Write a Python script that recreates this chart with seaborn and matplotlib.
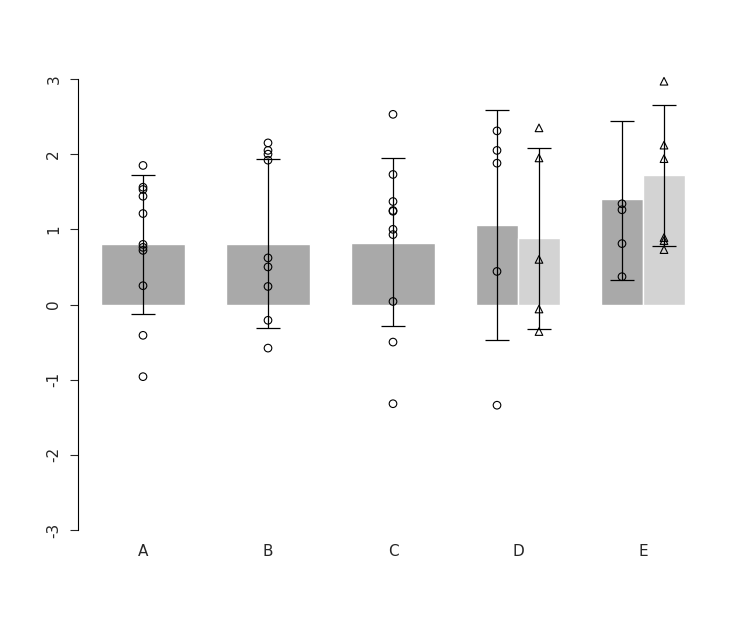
import matplotlib
matplotlib.use("Agg")
import matplotlib.pyplot as plt
import seaborn as sns
import pandas as pd

categories = ["A", "B", "C", "D", "E"]

# first series (dark bars, circles) and second series (light bars, triangles)
means1 = [0.80, 0.81, 0.82, 1.06, 1.40]
err_hi1 = [1.72, 1.93, 1.95, 2.59, 2.44]
err_lo1 = [-0.12, -0.31, -0.29, -0.47, 0.33]
pts1 = [
    [1.85, 1.56, 1.53, 1.44, 1.21, 0.80, 0.76, 0.72, 0.25, -0.41, -0.96],
    [2.15, 2.05, 2.00, 1.92, 0.62, 0.50, 0.24, -0.21, -0.58],
    [2.53, 1.73, 1.37, 1.25, 1.24, 1.00, 0.93, 0.04, -0.50, -1.32],
    [2.31, 2.05, 1.88, 0.44, -1.34],
    [1.34, 1.26, 0.81, 0.37],
]

cats2 = ["D", "E"]
means2 = [0.89, 1.72]
err_hi2 = [2.08, 2.65]
err_lo2 = [-0.32, 0.78]
pts2 = [
    [2.35, 1.95, 0.60, -0.06, -0.36],
    [2.97, 2.12, 1.94, 0.89, 0.85, 0.73],
]

sns.set_style("white")
fig = plt.figure(figsize=(7.5, 6.29), dpi=100)
ax = fig.add_axes([78 / 750, 99 / 629, 630 / 750, 451 / 629])

pos = {c: i for i, c in enumerate(categories)}
x1 = []
for c in categories:
    x1.append(pos[c] - 0.168 if c in cats2 else pos[c])
w1 = [0.336 if c in cats2 else 0.672 for c in categories]
x2 = [pos[c] + 0.168 for c in cats2]

ax.bar(x1, means1, width=w1, color="#A9A9A9", zorder=1)
ax.bar(x2, means2, width=0.336, color="#D3D3D3", zorder=1)

rows = []
for x, vals in zip(x1, pts1):
    rows += [{"x": x, "y": v, "s": "o"} for v in vals]
for x, vals in zip(x2, pts2):
    rows += [{"x": x, "y": v, "s": "t"} for v in vals]
df = pd.DataFrame(rows)
sns.scatterplot(data=df, x="x", y="y", style="s", markers={"o": "o", "t": "^"},
                facecolor="none", edgecolor="black", linewidth=0.8, s=30,
                legend=False, ax=ax, zorder=3, clip_on=False)

for xs, m, hi, lo in [(x1, means1, err_hi1, err_lo1), (x2, means2, err_hi2, err_lo2)]:
    ax.errorbar(xs, m, yerr=[[a - b for a, b in zip(m, lo)], [b - a for a, b in zip(m, hi)]],
                fmt="none", ecolor="black", elinewidth=0.9, capsize=8.5, capthick=0.9, zorder=2)

ax.set_xlim(-0.52, 4.52)
ax.set_ylim(-3, 3)
ax.set_xticks(range(len(categories)))
ax.set_xticklabels(categories, fontsize=11)
ax.tick_params(axis="x", length=0, pad=10)
ax.set_yticks([-3, -2, -1, 0, 1, 2, 3])
ax.set_yticklabels(["-3", "-2", "-1", "0", "1", "2", "3"], rotation=90, va="center", fontsize=11)
ax.tick_params(axis="y", length=6, width=0.8, left=True, pad=6)
for s in ["top", "right", "bottom"]:
    ax.spines[s].set_visible(False)
ax.spines["left"].set_color("black")
ax.spines["left"].set_linewidth(0.8)
ax.set_xlabel("")
ax.set_ylabel("")

fig.savefig("out.png", dpi=100)
